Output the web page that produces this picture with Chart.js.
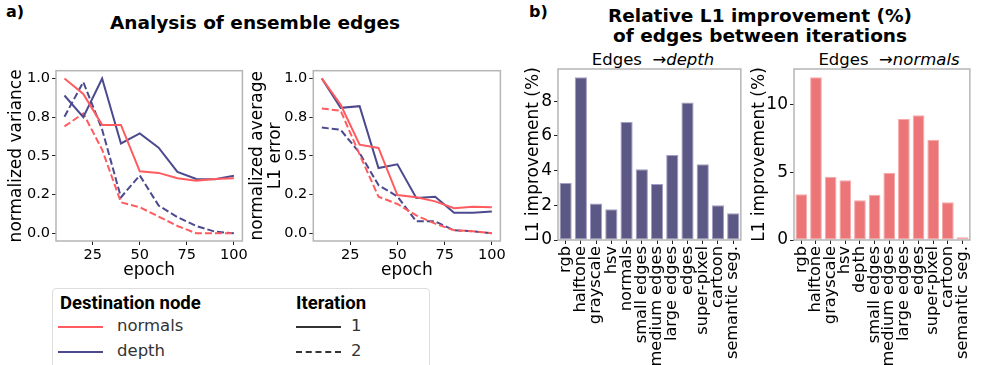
<!DOCTYPE html>
<html>
<head>
<meta charset="utf-8">
<script src="https://cdn.jsdelivr.net/npm/chart.js@4.4.1/dist/chart.umd.min.js"></script>
<style>
  body { margin: 0; background: #fff; font-family: "DejaVu Sans", sans-serif; color: #000; }
  #wrap { position: relative; width: 984px; height: 365px; overflow: hidden; }
  canvas, .txt { position: absolute; }
  .bold { font-weight: bold; }
  .legend {
    position: absolute; left: 52px; top: 288px; width: 378px; height: 90px;
    border: 1px solid #ddd; border-radius: 4px; box-sizing: border-box;
  }
  .lg-head { position: absolute; font-family: Roboto, sans-serif; font-weight: bold; font-size: 18.5px; }
  .lg-item { position: absolute; font-size: 16.5px; color: #333; }
  .lg-line { position: absolute; width: 45px; height: 0; }
</style>
</head>
<body>
<div id="wrap">
  <div class="txt bold" style="left:6px;top:2px;font-size:16px;">a)</div>
  <div class="txt bold" style="left:55px;top:12px;width:400px;text-align:center;font-size:18.5px;line-height:22px;">Analysis of ensemble edges</div>
  <div class="txt bold" style="left:529px;top:2px;font-size:16px;">b)</div>
  <div class="txt bold" style="left:560px;top:6px;width:400px;text-align:center;font-size:18.5px;line-height:19.5px;">Relative L1 improvement (%)<br>of edges between iterations</div>
  <div class="txt" style="left:553px;top:50px;width:200px;text-align:center;font-size:16.5px;">Edges &nbsp;→<i>depth</i></div>
  <div class="txt" style="left:789px;top:50px;width:200px;text-align:center;font-size:16.5px;">Edges &nbsp;→<i>normals</i></div>

  <canvas id="varChart" width="250" height="225" style="left:0;top:60px;"></canvas>
  <canvas id="errChart" width="260" height="225" style="left:248px;top:60px;"></canvas>
  <canvas id="depthBars" width="240" height="325" style="left:515px;top:40px;"></canvas>
  <canvas id="normalsBars" width="239" height="325" style="left:745px;top:40px;"></canvas>

  <div class="legend">
    <div class="lg-head" style="left:7px;top:3px;">Destination node</div>
    <div class="lg-line" style="left:5px;top:37px;border-top:2px solid #ff5c5f;"></div>
    <div class="lg-item" style="left:64px;top:27px;">normals</div>
    <div class="lg-line" style="left:5px;top:62px;border-top:2px solid #4c4a8f;"></div>
    <div class="lg-item" style="left:64px;top:52px;">depth</div>
    <div class="lg-head" style="left:243px;top:3px;">Iteration</div>
    <div class="lg-line" style="left:243px;top:37px;border-top:2px solid #333;"></div>
    <div class="lg-item" style="left:298px;top:27px;">1</div>
    <div class="lg-line" style="left:243px;top:62px;border-top:2px dashed #333;"></div>
    <div class="lg-item" style="left:298px;top:52px;">2</div>
  </div>
</div>

<script>
// Data
const epochs = [10, 20, 30, 40, 50, 60, 70, 80, 90, 100];
const yTickValues = [0, 0.25, 0.5, 0.75, 1.0];
const yTickLabels = ['0.0', '0.2', '0.5', '0.8', '1.0'];
const xTickValues = [25, 50, 75, 100];

// normalized variance
const varNormalsIt1 = [1.0, 0.90, 0.70, 0.70, 0.40, 0.39, 0.355, 0.34, 0.35, 0.355];
const varDepthIt1   = [0.89, 0.75, 1.0, 0.58, 0.645, 0.553, 0.396, 0.351, 0.349, 0.372];
const varNormalsIt2 = [0.69, 0.774, 0.54, 0.20, 0.168, 0.108, 0.047, 0.0, 0.0, 0.0];
const varDepthIt2   = [0.753, 0.977, 0.67, 0.232, 0.374, 0.179, 0.104, 0.047, 0.01, 0.0];

// normalized average L1 error
const errNormalsIt1 = [1.0, 0.83, 0.572, 0.551, 0.247, 0.232, 0.206, 0.162, 0.172, 0.168];
const errDepthIt1   = [1.0, 0.81, 0.821, 0.421, 0.445, 0.228, 0.236, 0.132, 0.132, 0.14];
const errNormalsIt2 = [0.806, 0.791, 0.509, 0.236, 0.189, 0.115, 0.062, 0.019, 0.013, 0.0];
const errDepthIt2   = [0.683, 0.668, 0.519, 0.311, 0.238, 0.077, 0.077, 0.019, 0.013, 0.0];

// L1 improvement (%)
const depthLabels = ['rgb', 'halftone', 'grayscale', 'hsv', 'normals', 'small edges', 'medium edges',
  'large edges', 'edges', 'super-pixel', 'cartoon', 'semantic seg.'];
const depthImprovement = [3.28, 9.38, 2.1, 1.77, 6.8, 4.08, 3.22, 4.89, 7.92, 4.37, 2.0, 1.54];
const depthTicks = [0, 2, 4, 6, 8];

const normalsLabels = ['rgb', 'halftone', 'grayscale', 'hsv', 'depth', 'small edges', 'medium edges',
  'large edges', 'edges', 'super-pixel', 'cartoon', 'semantic seg.'];
const normalsImprovement = [3.37, 12.0, 4.66, 4.41, 2.93, 3.33, 4.93, 8.92, 9.19, 7.39, 2.78, 0.2];
const normalsTicks = [0, 5, 10];

const RED = '#ff5c5f';
const BLUE = '#4c4a8f';
const FONT = 'DejaVu Sans';

Chart.defaults.font.family = FONT;
Chart.defaults.color = '#000';
Chart.defaults.animation = false;

// draws the grey frame round the plot area
const framePlugin = {
  id: 'frame',
  afterDatasetsDraw(chart) {
    const a = chart.chartArea;
    const ctx = chart.ctx;
    ctx.save();
    ctx.strokeStyle = '#b5b5b5';
    ctx.lineWidth = 1.5;
    ctx.strokeRect(a.left, a.top, a.right - a.left, a.bottom - a.top);
    ctx.restore();
  }
};

function pts(values) {
  return values.map((v, i) => ({ x: epochs[i], y: v }));
}

function lineDataset(values, color, dashed) {
  return {
    data: pts(values),
    borderColor: color,
    borderWidth: 2,
    borderDash: dashed ? [7, 3] : [],
    pointRadius: 0,
    tension: 0,
    fill: false
  };
}

function lineChart(id, series, yTitle, yWidth, padRight, titlePad) {
  new Chart(document.getElementById(id), {
    type: 'line',
    data: {
      datasets: [
        lineDataset(series[0], RED, false),
        lineDataset(series[1], BLUE, false),
        lineDataset(series[2], RED, true),
        lineDataset(series[3], BLUE, true)
      ]
    },
    options: {
      responsive: false,
      devicePixelRatio: 1,
      layout: { padding: { top: 8.5, right: padRight, left: 0, bottom: 0 } },
      plugins: { legend: { display: false }, tooltip: { enabled: false } },
      scales: {
        x: {
          type: 'linear', min: 5.5, max: 104.5,
          afterBuildTicks: s => { s.ticks = xTickValues.map(v => ({ value: v })); },
          afterFit: s => { s.height = 44; },
          grid: { drawOnChartArea: false, tickLength: 4, color: '#222' },
          border: { display: false },
          ticks: { font: { size: 14.5 }, padding: 2, maxRotation: 0 },
          title: { display: true, text: 'epoch', font: { size: 17 }, padding: { top: 0, bottom: 4 } }
        },
        y: {
          min: -0.05, max: 1.05,
          afterBuildTicks: s => { s.ticks = yTickValues.map(v => ({ value: v })); },
          afterFit: s => { s.width = yWidth; },
          grid: { drawOnChartArea: false, tickLength: 4, color: '#222' },
          border: { display: false },
          ticks: {
            font: { size: 14.5 }, padding: 2,
            callback: v => yTickLabels[yTickValues.indexOf(v)]
          },
          title: { display: true, text: yTitle, font: { size: 17, lineHeight: 1.1 }, padding: { top: titlePad } }
        }
      }
    },
    plugins: [framePlugin]
  });
}

function barChart(id, labels, values, ticks, yMax, fill, edge, yWidth, padRight, titlePad) {
  new Chart(document.getElementById(id), {
    type: 'bar',
    data: {
      labels: labels,
      datasets: [{
        data: values,
        backgroundColor: fill,
        borderColor: edge,
        borderWidth: 1,
        borderSkipped: false,
        categoryPercentage: 1,
        barPercentage: 0.8
      }]
    },
    options: {
      responsive: false,
      devicePixelRatio: 1,
      layout: { padding: { top: 29, right: padRight, left: 0, bottom: 0 } },
      plugins: { legend: { display: false }, tooltip: { enabled: false } },
      scales: {
        x: {
          afterFit: s => { s.height = 125; },
          grid: { drawOnChartArea: false, tickLength: 4, color: '#222', offset: false },
          border: { display: false },
          ticks: { font: { size: 16.2 }, padding: 2, autoSkip: false, minRotation: 90, maxRotation: 90 }
        },
        y: {
          min: 0, max: yMax,
          afterBuildTicks: s => { s.ticks = ticks.map(v => ({ value: v })); },
          afterFit: s => { s.width = yWidth; },
          grid: { drawOnChartArea: false, tickLength: 4, color: '#222' },
          border: { display: false },
          ticks: { font: { size: 17 }, padding: 2 },
          title: { display: true, text: 'L1 improvement (%)', font: { size: 17 }, padding: { top: titlePad } }
        }
      }
    },
    plugins: [framePlugin]
  });
}

lineChart('varChart', [varNormalsIt1, varDepthIt1, varNormalsIt2, varDepthIt2],
  'normalized variance', 56, 5.5, 7);
lineChart('errChart', [errNormalsIt1, errDepthIt1, errNormalsIt2, errDepthIt2],
  ['normalized average', 'L1 error'], 65.3, 6.3, 0);
barChart('depthBars', depthLabels, depthImprovement, depthTicks, 9.85, '#5c5885', '#a29ec4', 43, 8, 8);
barChart('normalsBars', normalsLabels, normalsImprovement, normalsTicks, 12.6, '#ec7677', '#f7a9a9', 49, 1, 4);
</script>
</body>
</html>
